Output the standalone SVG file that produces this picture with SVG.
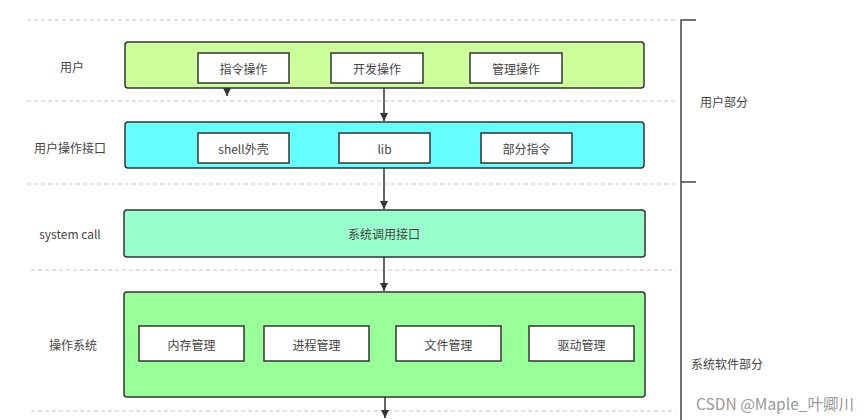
<svg xmlns="http://www.w3.org/2000/svg" width="865" height="420" viewBox="0 0 865 420">
<style>
text{font-family:"Noto Sans CJK SC","Liberation Sans",sans-serif;font-size:12px;fill:#444;text-anchor:middle;dominant-baseline:central}
.dash{stroke:#c8c8c8;stroke-width:1.2;stroke-dasharray:4 3;fill:none}
.layer{stroke:#333;stroke-width:1.5}
.inner{fill:#fff;stroke:#333;stroke-width:1.5}
.conn{stroke:#333;stroke-width:1.5;fill:none}
.br{stroke:#444;stroke-width:1.5;fill:none}
</style>
<defs>
<marker id="ah" viewBox="0 0 10 10" refX="10" refY="5" markerWidth="8" markerHeight="8" markerUnits="userSpaceOnUse" orient="auto"><path d="M0,0 L10,5 L0,10 Z" fill="#333"/></marker>
</defs>
<rect width="865" height="420" fill="#fff"/>
<g id="guides">
<line class="dash" x1="27" y1="20" x2="676" y2="20"/>
<line class="dash" x1="27" y1="101" x2="676" y2="101"/>
<line class="dash" x1="27" y1="184" x2="676" y2="184"/>
<line class="dash" x1="31" y1="270" x2="676" y2="270"/>
<line class="dash" x1="31" y1="411" x2="676" y2="411"/>
</g>
<g id="bracket">
<path class="br" d="M696,20 H681 V420"/>
<line class="br" x1="681" y1="182" x2="696" y2="182"/>
</g>
<g id="labels">
<text x="72" y="66">用户</text>
<text x="70" y="147">用户操作接口</text>
<text x="70" y="233">system call</text>
<text x="73" y="344">操作系统</text>
<text x="724" y="101">用户部分</text>
<text x="727" y="363">系统软件部分</text>
<text x="775" y="403" style="font-size:15.5px;fill:#999">CSDN @Maple_叶卿川</text>
</g>
<g id="user">
<rect class="layer" x="125" y="42" width="519" height="46" rx="3" fill="#ccff99"/>
<g id="cmd-op"><rect class="inner" x="198" y="53" width="91" height="30"/><text x="243.5" y="68">指令操作</text></g>
<g id="dev-op"><rect class="inner" x="331" y="53" width="92" height="30"/><text x="377" y="68">开发操作</text></g>
<g id="mgmt-op"><rect class="inner" x="470" y="53" width="92" height="30"/><text x="516" y="68">管理操作</text></g>
</g>
<g id="user-interface">
<rect class="layer" x="125" y="122" width="519" height="46" rx="3" fill="#66ffff"/>
<g id="shell"><rect class="inner" x="198" y="133" width="91" height="30"/><text x="243.5" y="148">shell外壳</text></g>
<g id="lib"><rect class="inner" x="339" y="133" width="91" height="30"/><text x="384.5" y="148">lib</text></g>
<g id="partial-cmd"><rect class="inner" x="481" y="133" width="91" height="30"/><text x="526.5" y="148">部分指令</text></g>
</g>
<g id="syscall">
<rect class="layer" x="124" y="210" width="521" height="47" rx="3" fill="#99ffcc"/>
<text x="384" y="233">系统调用接口</text>
</g>
<g id="os">
<rect class="layer" x="124" y="292" width="521" height="105" rx="3" fill="#99ff99"/>
<g id="mem"><rect class="inner" x="139" y="326" width="105" height="35"/><text x="191.5" y="344">内存管理</text></g>
<g id="proc"><rect class="inner" x="264" y="326" width="105" height="35"/><text x="316.5" y="344">进程管理</text></g>
<g id="file"><rect class="inner" x="396" y="326" width="105" height="35"/><text x="448.5" y="344">文件管理</text></g>
<g id="driver"><rect class="inner" x="529" y="326" width="105" height="35"/><text x="581.5" y="344">驱动管理</text></g>
</g>
<g id="connectors">
<line class="conn" x1="227" y1="88" x2="227" y2="96" marker-end="url(#ah)"/>
<line class="conn" x1="384" y1="88" x2="384" y2="121" marker-end="url(#ah)"/>
<line class="conn" x1="384" y1="168" x2="384" y2="209" marker-end="url(#ah)"/>
<line class="conn" x1="384" y1="257" x2="384" y2="291" marker-end="url(#ah)"/>
<line class="conn" x1="385" y1="397" x2="385" y2="418" marker-end="url(#ah)"/>
</g>
</svg>
